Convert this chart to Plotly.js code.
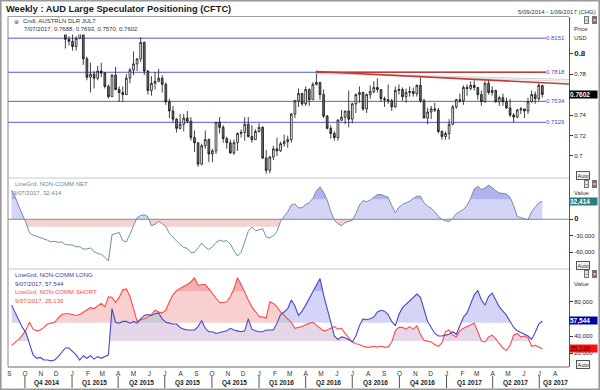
<!DOCTYPE html>
<html><head><meta charset="utf-8">
<script src="https://cdn.plot.ly/plotly-3.0.1.min.js"></script>
<style>html,body{margin:0;padding:0;background:#fff}#c{width:600px;height:390px}</style>
</head><body><div id="c"></div>
<script>
const weeks = ['2014-09-05','2014-09-12','2014-09-19','2014-09-26','2014-10-03','2014-10-10','2014-10-17','2014-10-24','2014-10-31','2014-11-07','2014-11-14','2014-11-21','2014-11-28','2014-12-05','2014-12-12','2014-12-19','2014-12-26',
'2015-01-02','2015-01-09','2015-01-16','2015-01-23','2015-01-30','2015-02-06','2015-02-13','2015-02-20','2015-02-27','2015-03-06','2015-03-13','2015-03-20','2015-03-27','2015-04-03','2015-04-10','2015-04-17','2015-04-24','2015-05-01','2015-05-08','2015-05-15','2015-05-22','2015-05-29','2015-06-05','2015-06-12','2015-06-19','2015-06-26','2015-07-03','2015-07-10','2015-07-17','2015-07-24','2015-07-31','2015-08-07','2015-08-14','2015-08-21','2015-08-28','2015-09-04','2015-09-11','2015-09-18','2015-09-25','2015-10-02','2015-10-09','2015-10-16','2015-10-23','2015-10-30','2015-11-06','2015-11-13','2015-11-20','2015-11-27','2015-12-04','2015-12-11','2015-12-18','2015-12-25',
'2016-01-01','2016-01-08','2016-01-15','2016-01-22','2016-01-29','2016-02-05','2016-02-12','2016-02-19','2016-02-26','2016-03-04','2016-03-11','2016-03-18','2016-03-25','2016-04-01','2016-04-08','2016-04-15','2016-04-22','2016-04-29','2016-05-06','2016-05-13','2016-05-20','2016-05-27','2016-06-03','2016-06-10','2016-06-17','2016-06-24','2016-07-01','2016-07-08','2016-07-15','2016-07-22','2016-07-29','2016-08-05','2016-08-12','2016-08-19','2016-08-26','2016-09-02','2016-09-09','2016-09-16','2016-09-23','2016-09-30','2016-10-07','2016-10-14','2016-10-21','2016-10-28','2016-11-04','2016-11-11','2016-11-18','2016-11-25','2016-12-02','2016-12-09','2016-12-16','2016-12-23','2016-12-30',
'2017-01-06','2017-01-13','2017-01-20','2017-01-27','2017-02-03','2017-02-10','2017-02-17','2017-02-24','2017-03-03','2017-03-10','2017-03-17','2017-03-24','2017-03-31','2017-04-07','2017-04-14','2017-04-21','2017-04-28','2017-05-05','2017-05-12','2017-05-19','2017-05-26','2017-06-02','2017-06-09','2017-06-16','2017-06-23','2017-06-30','2017-07-07'];

const openP = [.9330,.9370,.9030,.8940,.8760,.8720,.8760,.8770,.8790,.8670,.8610,.8730,.8620,.8500,.8290,.8260,.8140,
.8120,.8070,.8150,.8230,.7950,.7770,.7800,.7760,.7830,.7810,.7680,.7580,.7790,.7650,.7620,.7600,.7760,.7840,.7900,.7950,.8110,.7830,.7640,.7710,.7730,.7760,.7700,.7530,.7440,.7360,.7270,.7310,.7370,.7340,.7180,.7130,.6920,.7100,.7160,.7020,.7050,.7330,.7280,.7170,.7130,.7030,.7130,.7220,.7230,.7310,.7190,.7160,
.7240,.7280,.6980,.6860,.6990,.7070,.7050,.7120,.7140,.7160,.7410,.7540,.7610,.7510,.7650,.7550,.7700,.7720,.7600,.7390,.7270,.7220,.7180,.7350,.7380,.7440,.7360,.7510,.7600,.7620,.7460,.7600,.7630,.7670,.7650,.7560,.7550,.7540,.7480,.7640,.7650,.7580,.7620,.7630,.7610,.7690,.7540,.7370,.7430,.7460,.7450,.7240,.7190,
.7220,.7310,.7480,.7550,.7540,.7670,.7660,.7690,.7670,.7600,.7530,.7710,.7620,.7640,.7530,.7570,.7530,.7470,.7400,.7380,.7450,.7460,.7440,.7530,.7600,.7560,.7688];
const highP = [.9400,.9370,.9120,.8960,.8790,.8820,.8840,.8840,.8910,.8680,.8800,.8740,.8660,.8530,.8340,.8280,.8170,
.8210,.8170,.8290,.8240,.7970,.7910,.7830,.7880,.7910,.7820,.7700,.7800,.7870,.7680,.7680,.7800,.7860,.8020,.7950,.8160,.8120,.7840,.7780,.7820,.7850,.7790,.7720,.7560,.7490,.7370,.7410,.7410,.7440,.7380,.7250,.7130,.7120,.7250,.7170,.7070,.7330,.7380,.7300,.7190,.7160,.7160,.7230,.7260,.7380,.7380,.7300,.7260,
.7320,.7290,.7060,.7000,.7100,.7180,.7140,.7210,.7200,.7420,.7550,.7660,.7620,.7680,.7660,.7720,.7835,.7720,.7650,.7400,.7300,.7240,.7360,.7450,.7440,.7640,.7520,.7610,.7680,.7630,.7610,.7690,.7730,.7760,.7650,.7580,.7700,.7560,.7680,.7700,.7670,.7660,.7680,.7670,.7700,.7780,.7560,.7470,.7490,.7520,.7470,.7250,.7240,
.7360,.7500,.7560,.7610,.7690,.7700,.7730,.7740,.7670,.7640,.7730,.7750,.7680,.7650,.7590,.7610,.7570,.7560,.7420,.7460,.7480,.7460,.7570,.7640,.7630,.7710,.7693];
const lowP = [.9320,.9010,.8870,.8720,.8645,.8660,.8700,.8730,.8640,.8540,.8580,.8550,.8420,.8280,.8190,.8050,.8080,
.8030,.8030,.8140,.7890,.7740,.7620,.7660,.7740,.7770,.7660,.7560,.7580,.7640,.7530,.7530,.7600,.7710,.7790,.7830,.7920,.7790,.7600,.7590,.7650,.7720,.7620,.7500,.7370,.7330,.7230,.7260,.7240,.7320,.7150,.7040,.6895,.6910,.7070,.6940,.6940,.7020,.7220,.7130,.7070,.7020,.7010,.7050,.7180,.7150,.7180,.7130,.7160,
.7230,.6970,.6827,.6830,.6960,.7000,.7040,.7090,.7080,.7130,.7370,.7480,.7490,.7490,.7490,.7550,.7690,.7550,.7370,.7260,.7170,.7150,.7150,.7340,.7310,.7280,.7320,.7420,.7520,.7440,.7420,.7560,.7610,.7620,.7530,.7480,.7510,.7440,.7470,.7600,.7540,.7520,.7580,.7580,.7580,.7520,.7370,.7310,.7360,.7430,.7220,.7160,.7160,
.7160,.7300,.7460,.7520,.7500,.7590,.7640,.7640,.7550,.7490,.7520,.7600,.7590,.7520,.7490,.7490,.7460,.7380,.7330,.7370,.7410,.7370,.7410,.7520,.7510,.7540,.7570];
const closeP = [.9370,.9030,.8940,.8760,.8720,.8760,.8770,.8790,.8670,.8610,.8730,.8620,.8500,.8290,.8260,.8140,.8120,
.8070,.8150,.8230,.7950,.7770,.7800,.7760,.7830,.7810,.7680,.7580,.7790,.7650,.7620,.7600,.7760,.7840,.7900,.7950,.8110,.7830,.7640,.7710,.7730,.7760,.7700,.7530,.7440,.7360,.7270,.7310,.7370,.7340,.7180,.7130,.6920,.7100,.7160,.7020,.7050,.7330,.7280,.7170,.7130,.7030,.7130,.7220,.7230,.7310,.7190,.7160,.7240,
.7280,.6980,.6860,.6990,.7070,.7050,.7120,.7140,.7160,.7410,.7540,.7610,.7510,.7650,.7550,.7700,.7720,.7600,.7390,.7270,.7220,.7180,.7350,.7380,.7440,.7360,.7510,.7600,.7620,.7460,.7600,.7630,.7670,.7650,.7560,.7550,.7540,.7480,.7640,.7650,.7580,.7620,.7630,.7610,.7690,.7540,.7370,.7430,.7460,.7450,.7240,.7190,.7220,
.7310,.7480,.7550,.7540,.7670,.7660,.7690,.7670,.7600,.7530,.7710,.7620,.7640,.7530,.7570,.7530,.7470,.7400,.7380,.7450,.7460,.7440,.7530,.7600,.7560,.7690,.7602];

const netPos = [53000,41000,24000,10000,-6000,-25000,-29000,-31000,-33000,-36000,-38000,-41000,-40000,-42000,-41000,-46000,-46000,
-47000,-50000,-50000,-54000,-54000,-52000,-59000,-62000,-64000,-69000,-76000,-28000,-26000,-24000,-39000,-41000,-27000,-12000,3000,7000,8000,5000,-12000,-9000,-4000,-8000,-13000,-26000,-33000,-40000,-46000,-51000,-53000,-61000,-60000,-52000,-43000,-51000,-55000,-50000,-42000,-38000,-40000,-39000,-45000,-57000,-67000,-60000,-40000,-22000,-14000,-21000,
-19000,-17000,-32000,-34000,-30000,-22000,-4000,5000,14000,26000,28000,21000,21000,27000,30000,38000,52000,59000,49000,35000,14000,-2000,-8000,-12000,-6000,-4000,-2000,10000,26000,34000,32000,35000,40000,45000,45000,43000,40000,25000,12000,22000,27000,30000,33000,38000,42000,42000,30000,24000,20000,14000,5000,0,-3000,
-4000,2000,10000,14000,18000,25000,38000,55000,60000,54000,57000,62000,58000,52000,48000,47000,46000,40000,25000,5000,3000,1000,-1000,14000,22000,30000,32414];

const longPos = [76000,67000,58000,50000,44000,32000,18000,14000,15000,12000,12000,11000,12000,16000,21000,26000,26000,
22000,18000,12000,17000,14000,17000,13000,16000,14000,16000,18000,72000,56000,55000,57000,57000,55000,57000,55000,60000,64000,65000,64000,66000,67000,60000,56000,55000,54000,54000,50000,48000,47000,47000,47000,51000,58000,49000,45000,45000,43000,44000,45000,46000,49000,47000,46000,45000,46000,60000,48000,46000,
45000,45000,47000,47000,47000,55000,65000,68000,72000,82000,75000,64000,69000,76000,84000,91000,99000,107000,88000,72000,54000,40000,36000,39000,38000,36000,33000,40000,52000,60000,59000,60000,62000,68000,70000,69000,65000,57000,52000,65000,73000,77000,81000,84000,89000,85000,70000,57000,50000,43000,40000,40000,41000,
42000,45000,42000,52000,62000,67000,77000,88000,93000,82000,76000,86000,90000,82000,74000,69000,64000,57000,50000,46000,44000,42000,40000,36000,44000,54000,57544];

const shortPos = [29000,32000,36000,41000,47000,56000,48000,46000,47000,50000,54000,55000,56000,61000,65000,66000,66000,
65000,64000,65000,68000,70000,73000,72000,75000,78000,74000,86000,85000,79000,85000,94000,95000,86000,72000,57000,59000,60000,62000,65000,70000,68000,67000,70000,80000,88000,93000,96000,98000,100000,103000,108000,99000,100000,100000,95000,89000,84000,79000,79000,80000,86000,95000,108000,100000,90000,82000,74000,68000,
63000,62000,61000,80000,78000,74000,68000,64000,60000,56000,49000,50000,51000,53000,55000,56000,53000,49000,46000,47000,49000,51000,48000,49000,43000,38000,33000,31000,30000,28000,27000,27000,28000,27000,28000,27000,27000,33000,46000,50000,50000,48000,51000,48000,52000,42000,35000,34000,33000,30000,28000,32000,45000,
47000,41000,39000,46000,49000,51000,53000,55000,45000,34000,33000,39000,41000,37000,31000,26000,23000,29000,41000,43000,39000,40000,38000,28000,29000,27000,25130];

const levelVals = [0.8151, 0.7818, 0.7534, 0.7329];
const trendDates = ['2016-04-22', '2017-08-28'];
const trendFlatDates = ['2016-04-22', '2017-07-14'];
const trendRedFlat = [0.7818, 0.7818];
const trendRedSlope = [0.7826, 0.7703];
const trendGrayA = [0.7812, 0.7748];
const trendGrayB = [0.7806, 0.7730];

const monthTicks = ['2014-09-01','2014-10-01','2014-11-01','2014-12-01','2015-01-01','2015-02-01','2015-03-01','2015-04-01','2015-05-01','2015-06-01','2015-07-01','2015-08-01','2015-09-01','2015-10-01','2015-11-01','2015-12-01','2016-01-01','2016-02-01','2016-03-01','2016-04-01','2016-05-01','2016-06-01','2016-07-01','2016-08-01','2016-09-01','2016-10-01','2016-11-01','2016-12-01','2017-01-01','2017-02-01','2017-03-01','2017-04-01','2017-05-01','2017-06-01','2017-07-01','2017-08-01','2017-09-01'];
const monthLetters = ['S','O','N','D','J','F','M','A','M','J','J','A','S','O','N','D','J','F','M','A','M','J','J','A','S','O','N','D','J','F','M','A','M','J','J','A','S'];
const quarterStarts = ['2014-10-01','2015-01-01','2015-04-01','2015-07-01','2015-10-01','2016-01-01','2016-04-01','2016-07-01','2016-10-01','2017-01-01','2017-04-01','2017-07-01'];
const quarterPos = ['2014-11-12','2015-02-14','2015-05-16','2015-08-15','2015-11-15','2016-02-14','2016-05-16','2016-08-15','2016-11-15','2017-02-14','2017-05-16','2017-08-02'];
const quarterLabels = ['Q4 2014','Q1 2015','Q2 2015','Q3 2015','Q4 2015','Q1 2016','Q2 2016','Q3 2016','Q4 2016','Q1 2017','Q2 2017','Q3 2017'];

// ---------- helpers (geometry of the fill bands only) ----------
const xms = weeks.map(d => Date.parse(d + 'T00:00:00Z'));
function clampLine(xs, ys, lo, hi) {
  const ox = [], oy = [];
  const cl = v => Math.min(hi, Math.max(lo, v));
  for (let i = 0; i < ys.length; i++) {
    if (i > 0) {
      const x0 = xs[i-1], x1 = xs[i], y0 = ys[i-1], y1 = ys[i];
      const ts = [];
      [lo, hi].forEach(th => { if (isFinite(th) && (y0 - th) * (y1 - th) < 0) ts.push((th - y0) / (y1 - y0)); });
      ts.sort((a, b) => a - b).forEach(t => { ox.push(x0 + t * (x1 - x0)); oy.push(cl(y0 + t * (y1 - y0))); });
    }
    ox.push(xs[i]); oy.push(cl(ys[i]));
  }
  return [ox, oy];
}
function minLine(xs, a, b) {
  const ox = [], oy = [];
  for (let i = 0; i < a.length; i++) {
    if (i > 0) {
      const d0 = a[i-1] - b[i-1], d1 = a[i] - b[i];
      if (d0 * d1 < 0) { const t = d0 / (d0 - d1); ox.push(xs[i-1] + t * (xs[i] - xs[i-1])); oy.push(a[i-1] + t * (a[i] - a[i-1])); }
    }
    ox.push(xs[i]); oy.push(Math.min(a[i], b[i]));
  }
  return [ox, oy];
}
function bandXY(xs, ys, lo, hi, base, color, yaxis) {
  const [ox, oy] = clampLine(xs, ys, lo, hi);
  return { type: 'scatter', mode: 'none', fill: 'toself', fillcolor: color, hoverinfo: 'skip',
    x: ox.concat([ox[ox.length-1], ox[0]]), y: oy.concat([base, base]), xaxis: 'x', yaxis: yaxis };
}

const BIG = 1e9;
const [mx, my] = minLine(xms, longPos, shortPos);

const traces = [
  { type: 'candlestick', x: weeks, open: openP, high: highP, low: lowP, close: closeP, xaxis: 'x', yaxis: 'y',
    increasing: { line: { color: '#111', width: 0.8 }, fillcolor: '#ffffff' },
    decreasing: { line: { color: '#111', width: 0.8 }, fillcolor: '#707070' },
    whiskerwidth: 0, hoverinfo: 'skip' },
  { type: 'scatter', mode: 'lines', x: trendDates, y: trendGrayA, line: { color: '#cfcfcf', width: 1 }, xaxis: 'x', yaxis: 'y', hoverinfo: 'skip' },
  { type: 'scatter', mode: 'lines', x: trendDates, y: trendGrayB, line: { color: '#d8d8d8', width: 1 }, xaxis: 'x', yaxis: 'y', hoverinfo: 'skip' },
  { type: 'scatter', mode: 'lines', x: trendFlatDates, y: trendRedFlat, line: { color: '#c43a3a', width: 1.6 }, xaxis: 'x', yaxis: 'y', hoverinfo: 'skip' },
  { type: 'scatter', mode: 'lines', x: trendDates, y: trendRedSlope, line: { color: '#c43a3a', width: 1.6 }, xaxis: 'x', yaxis: 'y', hoverinfo: 'skip' },

  // NET panel fills
  bandXY(xms, netPos, 0, 36000, 0, 'rgb(212,212,246)', 'y2'),
  bandXY(xms, netPos, 36000, BIG, 36000, 'rgb(178,178,238)', 'y2'),
  bandXY(xms, netPos, -13500, 0, 0, 'rgb(248,208,208)', 'y2'),
  { type: 'scatter', mode: 'lines', x: weeks, y: netPos, line: { color: '#6a93a3', width: 1 }, xaxis: 'x', yaxis: 'y2', hoverinfo: 'skip' },

  // LONG / SHORT panel fills
  (function(){ const [ox, oy] = clampLine(mx, my, 34200, 55500);
     return { type: 'scatter', mode: 'none', fill: 'toself', fillcolor: 'rgb(229,214,234)', hoverinfo: 'skip',
       x: ox.concat([ox[ox.length-1], ox[0]]), y: oy.concat([34200, 34200]), xaxis: 'x', yaxis: 'y3' }; })(),
  bandXY(xms, shortPos, 55500, 92000, 55500, 'rgb(249,208,208)', 'y3'),
  bandXY(xms, shortPos, 92000, BIG, 92000, 'rgb(242,176,176)', 'y3'),
  bandXY(xms, longPos, 55500, 92000, 55500, 'rgb(212,212,246)', 'y3'),
  bandXY(xms, longPos, 92000, BIG, 92000, 'rgb(180,180,238)', 'y3'),
  (function(){ const [ox, oy] = clampLine(mx, my, 55500, 92000);
     return { type: 'scatter', mode: 'none', fill: 'toself', fillcolor: 'rgb(204,202,210)', hoverinfo: 'skip',
       x: ox.concat([ox[ox.length-1], ox[0]]), y: oy.concat([55500, 55500]), xaxis: 'x', yaxis: 'y3' }; })(),
  { type: 'scatter', mode: 'lines', x: weeks, y: shortPos, line: { color: '#ff4a4a', width: 1.1 }, xaxis: 'x', yaxis: 'y3', hoverinfo: 'skip' },
  { type: 'scatter', mode: 'lines', x: weeks, y: longPos, line: { color: '#4848c8', width: 1.1 }, xaxis: 'x', yaxis: 'y3', hoverinfo: 'skip' }
];

// pixel -> paper helpers for decoration placement
const PX = X => (X - 8) / 561;
const PY = Y => (367 - Y) / 350;
const F = 'Liberation Sans, Arial, sans-serif';

const shapes = [
  { type: 'rect', xref: 'paper', yref: 'paper', x0: PX(0.8), x1: PX(599.2), y0: PY(389.2), y1: PY(0.8), line: { color: '#9a9a9a', width: 1.6 }, layer: 'below' },
  { type: 'line', xref: 'paper', yref: 'paper', x0: PX(8), x1: PX(569), y0: PY(16.5), y1: PY(16.5), line: { color: '#a0a0a0', width: 1 } },
  { type: 'line', xref: 'paper', yref: 'paper', x0: PX(8), x1: PX(8), y0: PY(16.5), y1: PY(367), line: { color: '#8a8a8a', width: 1 } },
  { type: 'line', xref: 'paper', yref: 'paper', x0: PX(8), x1: PX(569), y0: PY(178), y1: PY(178), line: { color: '#c8c8c8', width: 1 } },
  { type: 'line', xref: 'paper', yref: 'paper', x0: PX(8), x1: PX(569), y0: PY(269), y1: PY(269), line: { color: '#c8c8c8', width: 1 } },
  { type: 'line', xref: 'paper', yref: 'paper', x0: PX(8), x1: PX(569), y0: PY(367), y1: PY(367), line: { color: '#6a6a6a', width: 1 } },
  { type: 'line', xref: 'paper', yref: 'y2', x0: 0, x1: 1, y0: 0, y1: 0, line: { color: '#6a93a3', width: 1 } },
  { type: 'rect', xref: 'paper', yref: 'paper', x0: PX(9), x1: PX(142), y0: PY(34.5), y1: PY(17.2), fillcolor: '#fff', line: { width: 0 }, layer: 'above' }
];
levelVals.forEach(v => shapes.push({ type: 'line', xref: 'paper', yref: 'y', x0: 0, x1: PX(546), y0: v, y1: v, line: { color: '#5858d6', width: 1 }, layer: 'below' }));
quarterStarts.forEach(d => shapes.push({ type: 'line', xref: 'x', yref: 'paper', x0: d, x1: d, y0: PY(376), y1: PY(388), line: { color: '#555', width: 1 } }));

const ann = [];
const A = (X, Y, text, o) => ann.push(Object.assign({ xref: 'paper', yref: 'paper', x: PX(X), y: PY(Y), text, showarrow: false, xanchor: 'left', yanchor: 'middle', font: { family: F, size: 6, color: '#333' } }, o || {}));
A(4, 8.5, '<b>Weekly : AUD Large Speculator Positioning (CFTC)</b>', { font: { family: F, size: 9.3, color: '#1a1a1a' } });
A(598, 12.5, '5/09/2014 - 1/09/2017 (CHG)', { xanchor: 'right' });
A(12, 21, '⊕', { font: { family: 'DejaVu Sans', size: 6, color: '#556' } });
A(21, 21, 'Cndl, AUSTRLN DLR JUL7');
A(22, 29.5, '7/07/2017, 0.7688, 0.7693, 0.7570, 0.7602');
A(572, 29, 'Price'); A(572, 37.5, 'USD');
A(572, 193.5, 'Value'); A(572, 283.5, 'Value');
A(13, 184, 'LineGrd, NON-COMM NET', { font: { family: F, size: 6, color: '#5f8a9a' } });
A(11, 192.5, '9/07/2017, 32,414', { font: { family: F, size: 6, color: '#5f8a9a' } });
A(13, 275, 'LineGrd, NON-COMM LONG', { font: { family: F, size: 6, color: '#3838b0' } });
A(13, 283.5, '9/07/2017, 57,544', { font: { family: F, size: 6, color: '#3838b0' } });
A(13, 292, 'LineGrd, NON-COMM SHORT', { font: { family: F, size: 6, color: '#ff4848' } });
A(13, 300.5, '9/07/2017, 25,130', { font: { family: F, size: 6, color: '#ff4848' } });
[[175], [265], [364.5]].forEach(([Y]) => A(576, Y, 'Auto', { font: { family: F, size: 5.5, color: '#333' }, bordercolor: '#555', borderwidth: 1, borderpad: 0.5, bgcolor: '#f4f4f4' }));
[[20], [184], [274]].forEach(([Y]) => {
  A(584, Y, '−', { font: { family: F, size: 5.5, color: '#333' }, bordercolor: '#777', borderwidth: 1, borderpad: 0, bgcolor: '#e0e0e0' });
  A(592, Y, '×', { font: { family: F, size: 5.5, color: '#fff' }, bordercolor: '#777', borderwidth: 1, borderpad: 0, bgcolor: '#c05050' });
});
levelVals.forEach(v => ann.push({ xref: 'paper', yref: 'y', x: PX(567), y: v, text: v.toFixed(4), showarrow: false, xanchor: 'right', yanchor: 'middle', font: { family: F, size: 6, color: '#4848c8' } }));
const box = (yref, v, txt, bg, fc) => ann.push({ xref: 'paper', yref, x: 1.0, y: v, text: txt, showarrow: false, xanchor: 'left', yanchor: 'middle', align: 'left', width: 27, height: 7, bgcolor: bg, borderpad: 0, font: { family: F, size: 6.5, color: fc } });
box('y', closeP[closeP.length - 1], '<b>' + closeP[closeP.length - 1].toFixed(4) + '</b>', '#000', '#fff');
box('y2', netPos[netPos.length - 1], '<b>32,414</b>', '#2e7a80', '#fff');
box('y3', longPos[longPos.length - 1], '<b>57,544</b>', '#0000a8', '#fff');
box('y3', shortPos[shortPos.length - 1], '<b>25,130</b>', '#ff1010', '#8a0000');
quarterPos.forEach((d, i) => ann.push({ xref: 'x', yref: 'paper', x: d, y: PY(383), text: '<b>' + quarterLabels[i] + '</b>', showarrow: false, xanchor: 'center', yanchor: 'middle', font: { family: F, size: 6.5, color: '#222' } }));

const yCommon = { side: 'right', showgrid: false, zeroline: false, showline: true, linecolor: '#555', linewidth: 1, ticks: 'outside', ticklen: 3, tickcolor: '#333', tickfont: { family: F, size: 6, color: '#222' }, fixedrange: true };

const layout = {
  width: 600, height: 390, margin: { l: 8, r: 31, t: 17, b: 23, pad: 0 },
  paper_bgcolor: '#fff', plot_bgcolor: '#fff', showlegend: false, dragmode: false,
  font: { family: F, size: 6, color: '#333' },
  xaxis: { type: 'date', range: ['2014-08-29', '2017-08-28'], domain: [0, 1], anchor: 'y3',
    tickvals: monthTicks, ticktext: monthLetters, ticks: '', showgrid: false, zeroline: false, showline: false,
    tickfont: { family: F, size: 6.5, color: '#333' }, ticklabelstandoff: 1, rangeslider: { visible: false }, fixedrange: true },
  yaxis: Object.assign({}, yCommon, { domain: [0.54, 1], range: [0.6785, 0.8358], anchor: 'x',
    tickvals: [0.7, 0.72, 0.74, 0.76, 0.78, 0.8], ticktext: ['0.7', '0.72', '0.74', '', '0.78', '<b><span style="font-size:8px">0.8</span></b>'] }),
  yaxis2: Object.assign({}, yCommon, { domain: [0.28, 0.54], range: [-90400, 75100], anchor: 'x',
    tickvals: [0, -30000, -60000], ticktext: ['<b><span style="font-size:7.5px">0</span></b>', '-30,000', '-60,000'] }),
  yaxis3: Object.assign({}, yCommon, { domain: [0, 0.28], range: [3850, 118130], anchor: 'x',
    tickvals: [20000, 40000, 80000], ticktext: ['20,000', '40,000', '80,000'] }),
  shapes, annotations: ann
};

Plotly.newPlot('c', traces, layout, { staticPlot: true, displayModeBar: false });
</script></body></html>
